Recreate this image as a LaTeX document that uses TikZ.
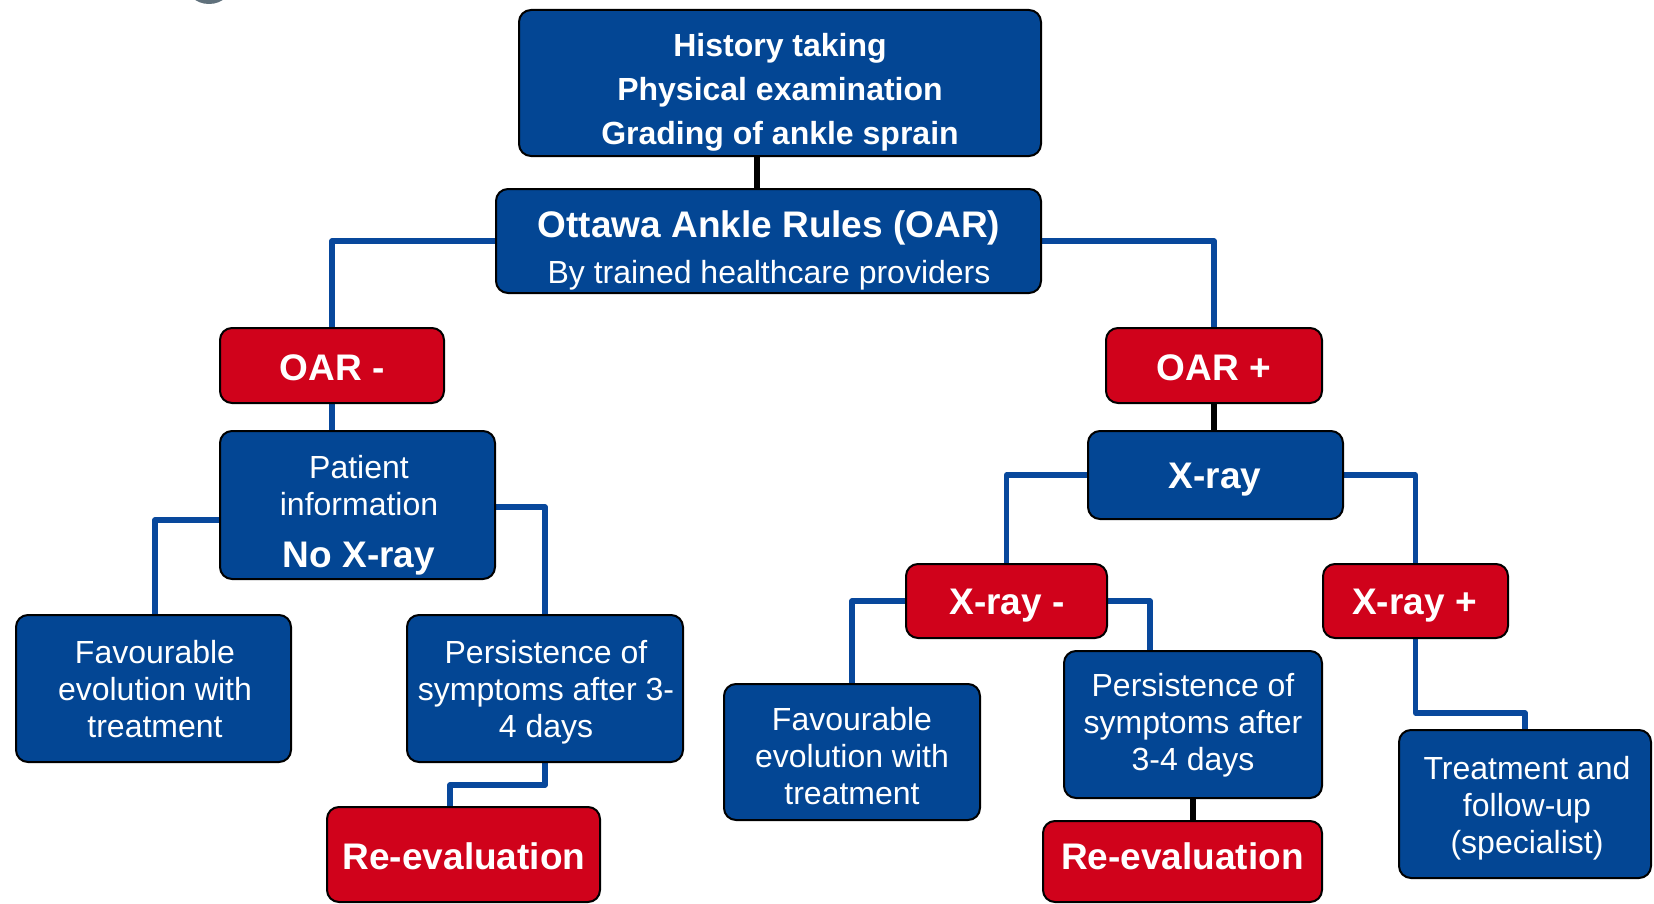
\documentclass[tikz,border=0pt]{standalone}
\usepackage{fontspec}
\setmainfont{Liberation Sans}
\usetikzlibrary{backgrounds}
\definecolor{boxblue}{RGB}{3,70,148}
\definecolor{boxred}{RGB}{208,2,27}
\definecolor{lineblue}{RGB}{8,72,156}
\definecolor{dotgray}{RGB}{96,113,124}
\tikzset{
 basebox/.style={draw=black, line width=1pt, rounded corners=6pt, inner sep=0pt, outer sep=0pt},
 bbox/.style={basebox, fill=boxblue},
 rbox/.style={basebox, fill=boxred},
 txt/.style={text=white, align=center, inner sep=0pt},
 reg/.style={txt, font=\fontsize{16}{18.5}\selectfont},
 bld/.style={txt, font=\bfseries\fontsize{18.5}{22}\selectfont},
 bconn/.style={draw=lineblue, line width=2.6pt, line join=round},
 kconn/.style={draw=black, line width=2.6pt, line join=round},
}
\begin{document}
\begin{tikzpicture}[x=0.5pt, y=-0.5pt]
\path[use as bounding box] (0,0) rectangle (1654,904);
\fill[dotgray] (209,-18) ellipse [x radius=12pt, y radius=11pt];

% boxes
\node[bbox, minimum width=261pt, minimum height=73pt] (top) at (780,83) {};
\node[txt, font=\bfseries\fontsize{16}{22}\selectfont] (topt) at (780,92) {History taking\\Physical examination\\Grading of ankle sprain};

\node[bbox, minimum width=272.5pt, minimum height=52pt] (oar) at (768.5,241) {};
\node[txt] (oart) at (769,250) {{\bfseries\fontsize{18.5}{22}\selectfont Ottawa Ankle Rules (OAR)}\\[6.5pt]{\fontsize{16}{22}\selectfont By trained healthcare providers}};

\node[rbox, minimum width=112pt, minimum height=37.5pt] (oarm) at (332,365.5) {};
\node[bld] (oarmt) at (332,368) {OAR -};

\node[rbox, minimum width=108pt, minimum height=37.5pt] (oarp) at (1214,365.5) {};
\node[bld] (oarpt) at (1214,368) {OAR +};

\node[bbox, minimum width=137.5pt, minimum height=74pt] (pat) at (357.5,505) {};
\node[reg] (patt) at (359,515) {Patient\\information\\[7.7pt]{\bfseries\fontsize{18.5}{22}\selectfont No X-ray}};

\node[bbox, minimum width=137.5pt, minimum height=73.5pt] (favl) at (153.5,688.5) {};
\node[reg] (favlt) at (155,689) {Favourable\\evolution with\\treatment};

\node[bbox, minimum width=138pt, minimum height=73.5pt] (perl) at (545,688.5) {};
\node[reg] (perlt) at (546,692) {Persistence of\\symptoms after 3-\\4 days};

\node[rbox, minimum width=136.5pt, minimum height=47.5pt] (reevl) at (463.5,854.5) {};
\node[bld] (reevlt) at (464,856) {Re-evaluation};

\node[bbox, minimum width=127.5pt, minimum height=44pt] (xray) at (1215.5,475) {};
\node[bld] (xrayt) at (1215,480) {X-ray};

\node[rbox, minimum width=100.5pt, minimum height=37pt] (xrm) at (1006.5,601) {};
\node[bld] (xrmt) at (1007,606) {X-ray -};

\node[rbox, minimum width=92.5pt, minimum height=37pt] (xrp) at (1415.5,601) {};
\node[bld] (xrpt) at (1414.5,606) {X-ray +};

\node[bbox, minimum width=128pt, minimum height=68pt] (favr) at (852,752) {};
\node[reg] (favrt) at (852,756) {Favourable\\evolution with\\treatment};

\node[bbox, minimum width=129pt, minimum height=73.5pt] (perr) at (1193,724.5) {};
\node[reg] (perrt) at (1193,725.5) {Persistence of\\symptoms after\\3-4 days};

\node[rbox, minimum width=139.5pt, minimum height=40.5pt] (reevr) at (1182.5,861.5) {};
\node[bld] (reevrt) at (1182.5,856) {Re-evaluation};

\node[bbox, minimum width=126pt, minimum height=74pt] (treat) at (1525,804) {};
\node[reg] (treatt) at (1527,808.5) {Treatment and\\follow-up\\(specialist)};

% connectors
\begin{scope}[on background layer]
\coordinate (k1) at (757,0);
\draw[kconn] (top.south -| k1) -- (oar.north -| k1);
\draw[bconn] (oar.west) -| (oarm.north);
\draw[bconn] (oar.east) -| (oarp.north);
\draw[bconn] (oarm.south) -- (oarm.south |- pat.north);
\draw[bconn] ([yshift=-7.5pt]pat.west) -| ([xshift=0.75pt]favl.north);
\draw[bconn] ([yshift=-1pt]pat.east) -| (perl.north);
\draw[bconn] (perl.south) -- ++(0,23) -| ([xshift=-6.75pt]reevl.north);
\draw[kconn] (oarp.south) -- (oarp.south |- xray.north);
\draw[bconn] (xray.west) -| (xrm.north);
\draw[bconn] (xray.east) -| (xrp.north);
\draw[bconn] (xrm.west) -| (favr.north);
\draw[bconn] (xrm.east) -| ([xshift=-21.5pt]perr.north);
\draw[kconn] (perr.south) -- (perr.south |- reevr.north);
\draw[bconn] (xrp.south) -- ++(0,75) -| (treat.north);
\end{scope}
\end{tikzpicture}
\end{document}
